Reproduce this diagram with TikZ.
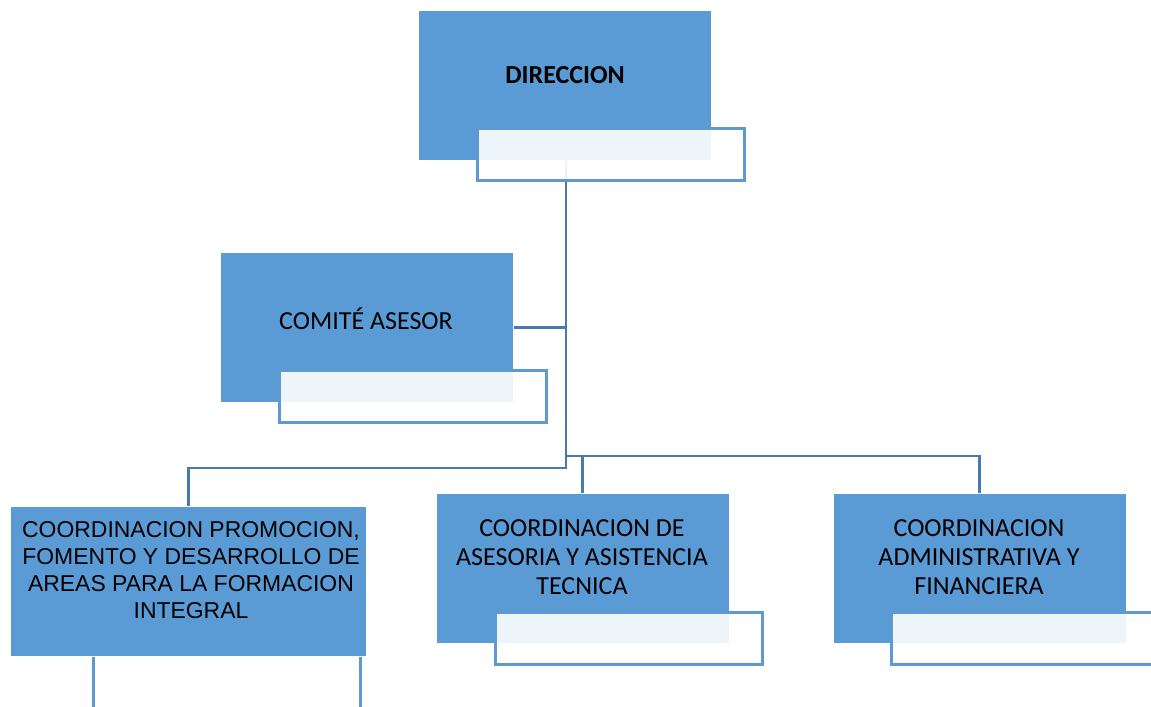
\documentclass[tikz,border=0pt]{standalone}
\usepackage{fontspec}
\setmainfont{Carlito}
\newfontfamily\arialfont{Liberation Sans}
\usetikzlibrary{positioning}

\definecolor{boxblue}{RGB}{91,155,213}
\definecolor{tabblue}{RGB}{96,152,208}
\definecolor{linkblue}{RGB}{72,122,172}

\begin{document}
\begin{tikzpicture}[x=0.75pt,y=-0.75pt]
\tikzset{unit/.style={fill=boxblue,draw=white,line width=0.4pt,inner sep=0pt,
anchor=north west,minimum width=293*0.75pt,minimum height=150*0.75pt},
tab/.style={fill=white,fill opacity=0.9,draw=tabblue,line width=2pt,inner sep=0pt,
anchor=north west,minimum width=267*0.75pt,minimum height=52*0.75pt},
label text/.style={font=\fontsize{19.5}{21.75}\selectfont,align=center,inner sep=0pt,anchor=north},
link/.style={draw=linkblue,line width=2.2pt}}
\clip (0,0) rectangle (1151,706);
\useasboundingbox (0,0) rectangle (1151,706);

% this tab sits behind its box
\node[tab,minimum height=70*0.75pt] (Coord promocion tab) at (92,650) {};

% boxes
\node[unit] (Direccion) at (418,10) {};
\node[unit] (Comite) at (220,252) {};
\node[unit,minimum width=356*0.75pt] (Coord promocion) at (10,506) {};
\node[unit] (Coord asesoria) at (436,493) {};
\node[unit] (Coord admin) at (833,493) {};

% connectors
\coordinate (Junction left) at (566,468);
\coordinate (Bus) at (566,456);
\draw[link] (Direccion.south -| Junction left) -- (Junction left) -| (Coord promocion.north);
\draw[link] (Comite.east) -- (Comite.east -| Junction left);
\draw[link] (Bus) -| (Coord admin.north);
\draw[link] (Bus -| Coord asesoria.north) -- (Coord asesoria.north);

% redraw boxes over the connectors
\node[unit] at (418,10) {};
\node[unit] at (220,252) {};

% tabs
\node[tab] (Direccion tab) at (476,127) {};
\node[tab] (Comite tab) at (278,369) {};
\node[tab] (Coord asesoria tab) at (494,611) {};
\node[tab] (Coord admin tab) at (890,611) {};

% texts
\node[label text,font=\fontsize{19.5}{21.75}\selectfont\bfseries] (Direccion text) at (565,66) {DIRECCION};
\node[label text] (Comite text) at (366,308) {COMITÉ ASESOR};
\node[label text,font=\arialfont\fontsize{17.2}{20.3}\selectfont] (Coord promocion text) at (191,521)
{COORDINACION PROMOCION,\\FOMENTO Y DESARROLLO DE\\AREAS PARA LA FORMACION\\INTEGRAL};
\node[label text] (Coord asesoria text) at (582,519) {COORDINACION DE\\ASESORIA Y ASISTENCIA\\TECNICA};
\node[label text] (Coord admin text) at (979,519) {COORDINACION\\ADMINISTRATIVA Y\\FINANCIERA};
\end{tikzpicture}
\end{document}
